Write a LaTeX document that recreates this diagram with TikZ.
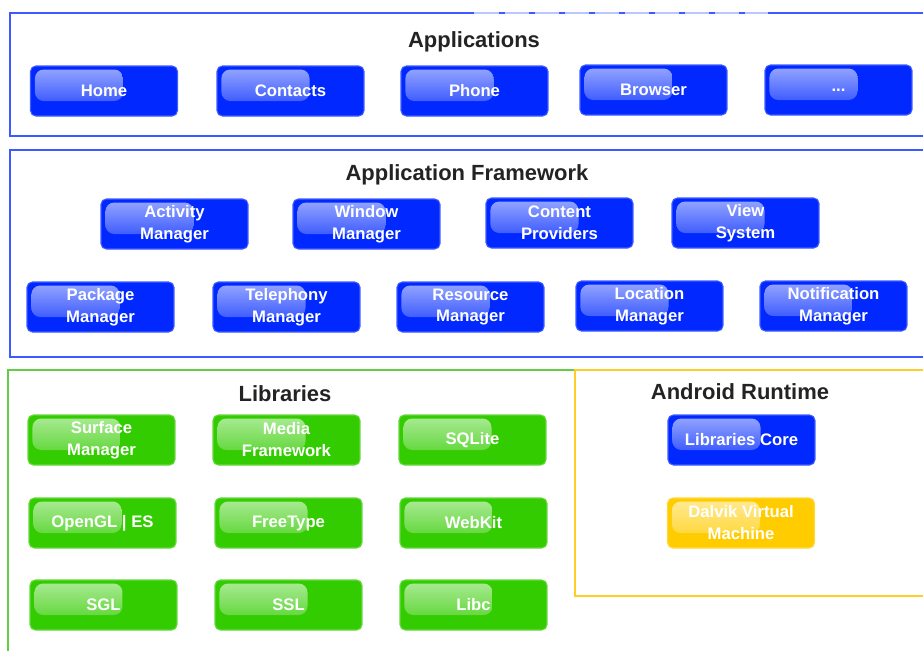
\documentclass[tikz,border=0pt]{standalone}
\usepackage{fontspec}
\setmainfont{Liberation Sans}
\usetikzlibrary{calc}

\definecolor{appblue}{RGB}{0,40,255}
\definecolor{libgreen}{RGB}{51,204,0}
\definecolor{dvmgold}{RGB}{255,204,0}
\definecolor{frameblue}{RGB}{60,90,255}
\definecolor{framegreen}{RGB}{100,205,70}
\definecolor{frameyellow}{RGB}{255,205,40}
\definecolor{titlegray}{RGB}{35,35,35}

\begin{document}
\begin{tikzpicture}[x=0.02cm, y=-0.02cm,
    btn/.style={draw=#1!75!white, line width=0.6pt, fill=#1, rounded corners=3pt,
        minimum width=2.94cm, minimum height=1cm, inner sep=0pt, text=white,
        align=center, font=\bfseries\fontsize{9.5}{12.5}\selectfont,
        path picture={
            \shade[top color=#1!40!white, bottom color=#1!90!white, rounded corners=5pt]
                ($(path picture bounding box.north west)+(2.5pt,-2pt)$) rectangle
                ($(path picture bounding box.north west)+(1.85cm,-0.7cm)$);
        }},
    btn/.default=appblue,
    layertitle/.style={text=titlegray, font=\bfseries\fontsize{12.5}{15}\selectfont},
    panel/.style={line width=1.2pt}]

    \useasboundingbox (0,0) rectangle (923,650);
    \clip (0,0) rectangle (923,650);

    % Applications panel
    \draw[panel, frameblue] (474,13) -- (10,13) -- (10,136) -- (930,136);
    \draw[panel, frameblue] (768,13) -- (930,13);
    \draw[panel, frameblue!35] (474,13) -- (768,13);
    \foreach \x in {502,532,...,742}
        \draw[panel, frameblue] (\x-3,13) -- (\x+3,13);

    % Application Framework panel
    \draw[panel, frameblue] (930,150) -- (10,150) -- (10,357) -- (930,357);

    % Libraries and Android Runtime panels
    \draw[panel, framegreen] (575,370) -- (8,370) -- (8,660);
    \draw[panel, frameyellow] (930,370) -- (575,370) -- (575,596) -- (930,596);

    % titles
    \node[layertitle] (tapps) at (474,42) {Applications};
    \node[layertitle] (tfw) at (467,175) {Application Framework};
    \node[layertitle] (tlibs) at (285,394) {Libraries};
    \node[layertitle] (trt) at (740,392) {Android Runtime};

    % applications
    \node[btn] (home) at (104,91) {Home};
    \node[btn] (contacts) at (290.5,91) {Contacts};
    \node[btn] (phone) at (474.5,91) {Phone};
    \node[btn] (browser) at (653.5,90) {Browser};
    \node[btn] (moreapps) at (838.5,90) {...};

    % application framework
    \node[btn] (activity) at (174.5,224) {Activity\\Manager};
    \node[btn] (window) at (366.5,224) {Window\\Manager};
    \node[btn] (content) at (559.5,223) {Content\\Providers};
    \node[btn] (view) at (745.5,223) {View\\System};

    \node[btn] (package) at (100.5,307) {Package\\Manager};
    \node[btn] (telephony) at (286.5,307) {Telephony\\Manager};
    \node[btn] (resource) at (470.5,307) {Resource\\Manager};
    \node[btn] (location) at (649.5,306) {Location\\Manager};
    \node[btn] (notification) at (833.5,306) {Notification\\Manager};

    % libraries
    \node[btn=libgreen] (surface) at (101.5,440) {Surface\\Manager};
    \node[btn=libgreen] (media) at (286.5,440) {Media\\Framework};
    \node[btn=libgreen] (sqlite) at (472.5,440) {SQLite};

    \node[btn=libgreen] (opengl) at (102.5,523) {OpenGL | ES};
    \node[btn=libgreen] (freetype) at (288.5,523) {FreeType};
    \node[btn=libgreen] (webkit) at (473.5,523) {WebKit};

    \node[btn=libgreen] (sgl) at (103.5,605) {SGL};
    \node[btn=libgreen] (ssl) at (288.5,605) {SSL};
    \node[btn=libgreen] (libc) at (473.5,605) {Libc};

    % android runtime
    \node[btn] (core) at (741.5,440) {Libraries Core};
    \node[btn=dvmgold] (dalvik) at (741,523) {Dalvik Virtual\\Machine};
\end{tikzpicture}
\end{document}
